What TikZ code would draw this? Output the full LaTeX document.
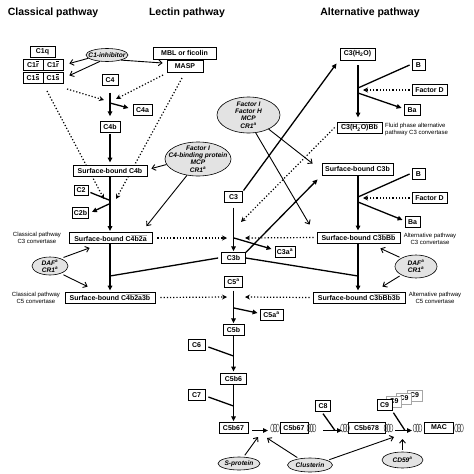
\documentclass[tikz,border=0pt]{standalone}
\usepackage{fontspec}
\setmainfont{Liberation Sans}
\usetikzlibrary{arrows.meta,shapes.geometric,backgrounds}
\newlength\mybarlen
\newcommand\mybar[2]{\settowidth\mybarlen{#2}\rlap{\textcolor{#1}{\rule[5.6pt]{\mybarlen}{0.8pt}}}#2}
\begin{document}
\begin{tikzpicture}[x=1pt,y=-1pt,
 box/.style={draw,line width=0.8pt,fill=white,font=\fontsize{7}{8}\selectfont\bfseries,inner sep=0pt,minimum height=10.5pt},
 bbox/.style={box,draw=gray!70,line width=0.5pt},
 ell/.style={ellipse,draw,line width=0.6pt,fill=gray!22,inner sep=0pt},
 etx/.style={font=\fontsize{6.6}{7.4}\selectfont\bfseries\itshape,align=center,inner sep=0pt},
 ttl/.style={font=\fontsize{10.5}{12}\selectfont\bfseries},
 lbl/.style={font=\fontsize{6}{7}\selectfont,align=center,inner sep=0pt},
 main/.style={line width=1.3pt,-{Triangle[length=5pt,width=4.5pt]}},
 plain/.style={line width=1.3pt},
 dots/.style={line width=1.2pt,dotted,-{Stealth[length=5pt,width=5pt]}},
 inh/.style={line width=0.9pt,-{Straight Barb[length=3.5pt,width=6pt]}},
 coil/.pic={\foreach \dx in {-2.6,0,2.6}{\draw[line width=0.45pt,gray!50!black] (\dx,0) ellipse (1.8 and 4);}}
]
\useasboundingbox (0,0) rectangle (474,474);

% free connector ends
\coordinate (c4cut) at (110,103);
\coordinate (d1s) at (67,89);
\coordinate (d1t) at (104,100);
\coordinate (d2s) at (163,75);
\coordinate (d2t) at (116,99);
\coordinate (d3s) at (47,91);
\coordinate (d3t) at (104,199);
\coordinate (d4s) at (182,78);
\coordinate (d4t) at (116,199);
\coordinate (c2cut) at (109,200);
\coordinate (c2bcut) at (109,204);
\coordinate (c3l) at (227,238);
\coordinate (c3r) at (245,238);
\coordinate (c3cut) at (234,238);
\coordinate (j1) at (110,276);
\coordinate (c5l) at (227,297);
\coordinate (c5r) at (245,297);
\coordinate (c5cut) at (234,308);
\coordinate (c3hot) at (241,222);
\coordinate (j2) at (358,276);
\coordinate (c6j) at (233.5,356);
\coordinate (c7j) at (233.5,406);
\coordinate (k1l) at (268,430.5);
\coordinate (spt) at (258,437);
\coordinate (clt) at (267,438);
\coordinate (clt2) at (394,437);
\coordinate (c8j) at (335,430.5);
\coordinate (c8l) at (323,430.5);
\coordinate (c8r) at (342,430.5);
\coordinate (c9j) at (405,430.5);
\coordinate (c9l) at (395,430.5);
\coordinate (c9r) at (412,430.5);
\coordinate (cdt) at (402.5,439);
\coordinate (b1j) at (358,88);
\coordinate (fd1t) at (363,90);
\coordinate (ba1s) at (358,93);
\coordinate (b2j) at (358,197);
\coordinate (fd2t) at (363,198);
\coordinate (ba2s) at (358,202);

\begin{pgfonlayer}{background}
\fill[white] (0,0) rectangle (474,474);
\draw[dots] (d3s) -- (d3t);
\draw[dots] (d4s) -- (d4t);
\end{pgfonlayer}

% titles
\node[ttl] (tC) at (53,13) {Classical pathway};
\node[ttl] (tL) at (187,13) {Lectin pathway};
\node[ttl] (tA) at (370,13) {Alternative pathway};

% classical / lectin initiation
\node[box,minimum width=25] (C1q) at (42.5,52) {C1q};
\node[box,minimum width=20,minimum height=11] (C1r1) at (33,64.5) {C1\mybar{black}{r}};
\node[box,minimum width=20,minimum height=11] (C1r2) at (53,64.5) {C1\mybar{black}{r}};
\node[box,minimum width=20,minimum height=11] (C1s1) at (33,77.5) {C1\mybar{black}{s}};
\node[box,minimum width=20,minimum height=11] (C1s2) at (53,77.5) {C1\mybar{black}{s}};
\node[ell,minimum width=42,minimum height=13] (C1inh) at (107,55) {};
\node[etx] at (C1inh) {C1-inhibitor};
\node[box,minimum width=63,minimum height=12] (MBL) at (184.5,53) {MBL or ficolin};
\node[box,minimum width=36,minimum height=12] (MASP) at (185,66) {MASP};

\node[box,minimum width=16] (C4) at (110,80) {C4};
\node[box,minimum width=19] (C4a) at (142.5,110) {C4a};
\node[box,minimum width=20] (C4b) at (110,127) {C4b};
\node[box,minimum width=74,minimum height=11] (SC4b) at (110,170.5) {Surface-bound C4b};
\node[box,minimum width=14] (C2) at (81,190.5) {C2};
\node[box,minimum width=16] (C2b) at (80.5,213) {C2b};
\node[box,minimum width=83,minimum height=11] (SC4b2a) at (110.5,238) {Surface-bound C\mybar{gray!60}{4b2a}};
\node[box,minimum width=90,minimum height=11] (SC4b2a3b) at (110,297.5) {Surface-bound C\mybar{gray!60}{4b2a3b}};
\node[lbl] (lC3c) at (37,238) {Classical pathway\\C3 convertase};
\node[lbl] (lC5c) at (36,297.5) {Classical pathway\\C5 convertase};
\node[ell,minimum width=36,minimum height=18] (DAF1) at (50,266) {};
\node[etx] at (DAF1) {DAF\textsuperscript{a}\\CR1\textsuperscript{a}};
\node[ell,minimum width=66,minimum height=34] (FI1) at (198,159) {};
\node[etx] at (FI1) {Factor I\\C4-binding protein\\MCP\\CR1\textsuperscript{a}};

% central column
\node[box,minimum width=18] (C3) at (233.5,197) {C3};
\node[box,minimum width=20] (C3a) at (285,252) {C3a\textsuperscript{a}};
\node[box,minimum width=24] (C3b) at (233.5,258) {C3b};
\node[box,minimum width=18] (C5) at (233.5,282) {C5\textsuperscript{a}};
\node[box,minimum width=23] (C5a) at (271.5,315) {C5a\textsuperscript{a}};
\node[box,minimum width=21] (C5b) at (233.5,330) {C5b};
\node[box,minimum width=17] (C6) at (196.5,345) {C6};
\node[box,minimum width=26,minimum height=11] (C5b6) at (233.5,378.5) {C5b6};
\node[box,minimum width=17] (C7) at (196.5,395) {C7};
\node[box,minimum width=29] (C5b67a) at (233.5,428) {C5b67};
\node[box,minimum width=28] (C5b67b) at (294,428) {C5b67};
\node[box,minimum width=15] (C8) at (323,406) {C8};
\node[box,minimum width=37,minimum height=11] (C5b678) at (366.5,427.5) {C5b678};
\node[bbox,minimum width=15] (C9d) at (414.5,395.5) {C9};
\node[bbox,minimum width=15] (C9c) at (404,398.5) {C9};
\node[bbox,minimum width=15] (C9b) at (394,401.5) {C9};
\node[box,minimum width=15] (C9a) at (384.5,405) {C9};
\node[box,minimum width=29,minimum height=11] (MAC) at (439,427.5) {MAC};
\pic at (275,428) {coil};
\pic at (311.5,428) {coil};
\pic at (345,428) {coil};
\pic at (388.5,428) {coil};
\pic at (417.5,428) {coil};
\pic at (459,428) {coil};
\node[ell,minimum width=42,minimum height=13] (Sprot) at (239,463.5) {};
\node[etx] at (Sprot) {S-protein};
\node[ell,minimum width=45,minimum height=14] (Clust) at (310,465) {};
\node[etx] at (Clust) {Clusterin};
\node[ell,minimum width=41,minimum height=16] (CD59) at (402.5,460) {};
\node[etx] at (CD59) {CD59\textsuperscript{a}};

% alternative pathway
\node[box,minimum width=35,minimum height=12] (C3HO) at (357.5,54) {C3(H\textsubscript{2}O)};
\node[box,minimum width=13] (B1) at (418.5,65) {B};
\node[box,minimum width=35] (FD1) at (429.5,90) {Factor D};
\node[box,minimum width=16] (Ba1) at (412,110) {Ba};
\node[box,minimum width=45,minimum height=11] (C3HOBb) at (359.5,127.5) {\mybar{gray!60}{C3(H\textsubscript{2}O)Bb}};
\node[lbl,align=left,anchor=west] (lFl) at (385,129) {Fluid phase alternative\\pathway C3 convertase};
\node[ell,minimum width=63,minimum height=36] (FI2) at (248.5,115) {};
\node[etx] at (FI2) {Factor I\\Factor H\\MCP\\CR1\textsuperscript{a}};
\node[box,minimum width=71,minimum height=12] (SC3b) at (357.5,169) {Surface-bound C3b};
\node[box,minimum width=13] (B2) at (418.5,174) {B};
\node[box,minimum width=35] (FD2) at (429.5,198) {Factor D};
\node[box,minimum width=15] (Ba2) at (412.5,222) {Ba};
\node[box,minimum width=83,minimum height=11] (SC3bBb) at (358.5,237.5) {Surface-bound C\mybar{gray!60}{3bBb}};
\node[box,minimum width=92,minimum height=11] (SC3bBb3b) at (359,297.5) {Surface-bound C\mybar{gray!60}{3bBb3b}};
\node[lbl] (lC3a) at (430,238.5) {Alternative pathway\\C3 convertase};
\node[lbl] (lC5a) at (435,297.5) {Alternative pathway\\C5 convertase};
\node[ell,minimum width=42,minimum height=23] (DAF2) at (416,266.5) {};
\node[etx] at (DAF2) {DAF\textsuperscript{a}\\CR1\textsuperscript{a}};

% classical connectors
\draw[inh] (C1inh.190) -- ([xshift=6pt,yshift=1pt]C1r2.east);
\draw[inh] (C1inh.222) -- ([xshift=6pt,yshift=2pt]C1s2.east);
\draw[inh] (C1inh.-20) -- ([xshift=-4pt,yshift=3pt]MASP.west);
\draw[dots] (d1s) -- (d1t);
\draw[dots] (d2s) -- (d2t);
\draw[main,shorten <=7pt,shorten >=5pt] (C4.south) -- (C4b.north);
\draw[main] (c4cut) -- ([xshift=-4pt,yshift=2pt]C4a.west);
\draw[main,shorten <=1pt,shorten >=2pt] (C4b.south) -- (SC4b.north);
\draw[main,shorten >=1pt] (SC4b.south) -- (SC4b.south |- SC4b2a.north);
\draw[plain] ([xshift=2pt,yshift=-2pt]C2.east) -- (c2cut);
\draw[main] (c2bcut) -- ([xshift=3pt,yshift=1pt]C2b.east);
\draw[inh] (FI1.190) -- ([xshift=4pt,yshift=2pt]SC4b.east);
\draw[inh] (FI1.236) -- ([xshift=-6pt,yshift=6pt]SC4b2a.north east);
\draw[dots] ([xshift=5pt]SC4b2a.east) -- (c3l);
\draw[inh,shorten <=3pt] (DAF1.35) -- ([xshift=21pt,yshift=-4pt]SC4b2a.south west);
\draw[inh,shorten <=3pt] (DAF1.-35) -- ([xshift=23pt,yshift=5pt]SC4b2a3b.north west);
\draw[main,shorten >=1pt] (SC4b2a.south -| SC4b.south) -- (SC4b.south |- SC4b2a3b.north);
\draw[plain] ([xshift=-3pt]C3b.west) -- (j1);
\draw[dots] ([xshift=5pt]SC4b2a3b.east) -- (c5l);

% central connectors
\draw[main,shorten <=5pt,shorten >=1pt] (C3.south) -- (C3b.north);
\draw[main] (c3cut) -- ([xshift=-3pt,yshift=3pt]C3a.west);
\draw[main,shorten <=1pt] (C3.north east) -- ([xshift=-3pt,yshift=-3pt]C3HO.south west);
\draw[dots] ([xshift=-2pt]C3HOBb.west) -- (c3hot);
\draw[main] (C3b.north east) -- ([xshift=-4pt,yshift=-4pt]SC3b.south west);
\draw[inh] (FI2.-35) -- ([xshift=-9pt,yshift=-1pt]SC3b.north west);
\draw[inh] (FI2.-68) -- ([xshift=-7pt,yshift=7pt]SC3bBb.north west);
\draw[dots] ([xshift=-3pt]SC3bBb.west) -- (c3r);
\draw[plain] (C3b.east) -- (j2);
\draw[dots] ([xshift=-3pt]SC3bBb3b.west) -- (c5r);
\draw[main,shorten <=3pt,shorten >=1pt] (C5.south) -- (C5b.north);
\draw[main] (c5cut) -- ([xshift=-2pt,yshift=2pt]C5a.west);
\draw[main,shorten >=1pt] (C5b.south) -- (C5b6.north);
\draw[plain] ([xshift=3pt,yshift=-2pt]C6.east) -- (c6j);
\draw[main,shorten >=1pt] (C5b6.south) -- (C5b67a.north);
\draw[plain] ([xshift=3pt,yshift=-2pt]C7.east) -- (c7j);
\draw[main] ([xshift=4pt,yshift=-2.5pt]C5b67a.east) -- (k1l);
\draw[inh,shorten <=2pt] (Sprot.55) -- (spt);
\draw[inh,shorten <=2pt] (Clust.150) -- (clt);
\draw[inh,shorten <=2pt] (Clust.15) -- (clt2);
\draw[plain] ([yshift=-2pt]C8.south) -- (c8j);
\draw[main] (c8l) -- (c8r);
\draw[plain] ([xshift=1pt,yshift=-2pt]C9a.south east) -- (c9j);
\draw[main] (c9l) -- (c9r);
\draw[inh] ([yshift=2pt]CD59.north) -- (cdt);

% alternative connectors
\draw[main,shorten <=5pt,shorten >=4pt] (C3HO.south -| b1j) -- (C3HOBb.north -| b1j);
\draw[plain] ([xshift=-2pt]B1.west) -- (b1j);
\draw[dots] ([xshift=-2pt]FD1.west) -- (fd1t);
\draw[main] (ba1s) -- ([xshift=-2pt,yshift=2pt]Ba1.west);
\draw[main,shorten <=1pt,shorten >=1pt] (SC3b.south -| b2j) -- (SC3bBb.north -| b2j);
\draw[plain] ([xshift=-2pt]B2.west) -- (b2j);
\draw[dots] ([xshift=-2pt]FD2.west) -- (fd2t);
\draw[main] (ba2s) -- ([xshift=-2pt,yshift=2pt]Ba2.west);
\draw[main,shorten >=1pt] (SC3bBb.south -| b2j) -- (SC3bBb3b.north -| b2j);
\draw[inh,shorten <=2pt] (DAF2.150) -- ([xshift=-20pt,yshift=-5pt]SC3bBb.south east);
\draw[inh,shorten <=2pt] (DAF2.210) -- ([xshift=-23pt,yshift=5pt]SC3bBb3b.north east);
\end{tikzpicture}
\end{document}
